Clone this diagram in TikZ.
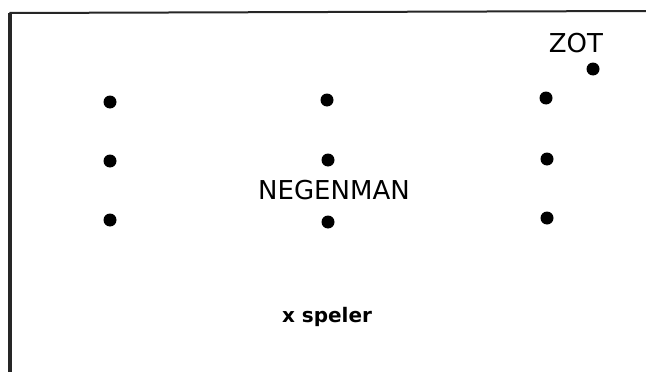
\documentclass[tikz,border=0pt]{standalone}
\usepackage{fontspec}
\setmainfont{DejaVu Sans}
\begin{document}
\begin{tikzpicture}[x=1pt,y=-1pt,
  dot/.style={circle,fill=black,inner sep=0pt,minimum size=13pt},
  lbl/.style={inner sep=0pt,anchor=center}]
\useasboundingbox (0,0) rectangle (646,372);
\coordinate (tl) at (9.5,13);
\coordinate (tr) at (646,11);
\coordinate (bl) at (9.5,372);
\draw[line width=2pt,black!85] (tl) -- (tr);
\draw[line width=4pt,black!85] (bl) -- (tl);
\node[dot] (a1) at (110,102) {};
\node[dot] (a2) at (110,161) {};
\node[dot] (a3) at (110,220) {};
\node[dot] (b1) at (327,100) {};
\node[dot] (b2) at (328,160) {};
\node[dot] (b3) at (328,222) {};
\node[dot] (c1) at (546,98) {};
\node[dot] (c2) at (547,159) {};
\node[dot] (c3) at (547,218) {};
\node[dot] (z) at (593,69) {};
\node[lbl,font=\fontsize{26}{26}\selectfont] (zot) at (576,43) {ZOT};
\node[lbl,font=\fontsize{26}{26}\selectfont] (neg) at (334,190) {NEGENMAN};
\node[lbl,font=\bfseries\fontsize{20}{20}\selectfont,anchor=base] (sp) at (327,322) {x speler};
\end{tikzpicture}
\end{document}
